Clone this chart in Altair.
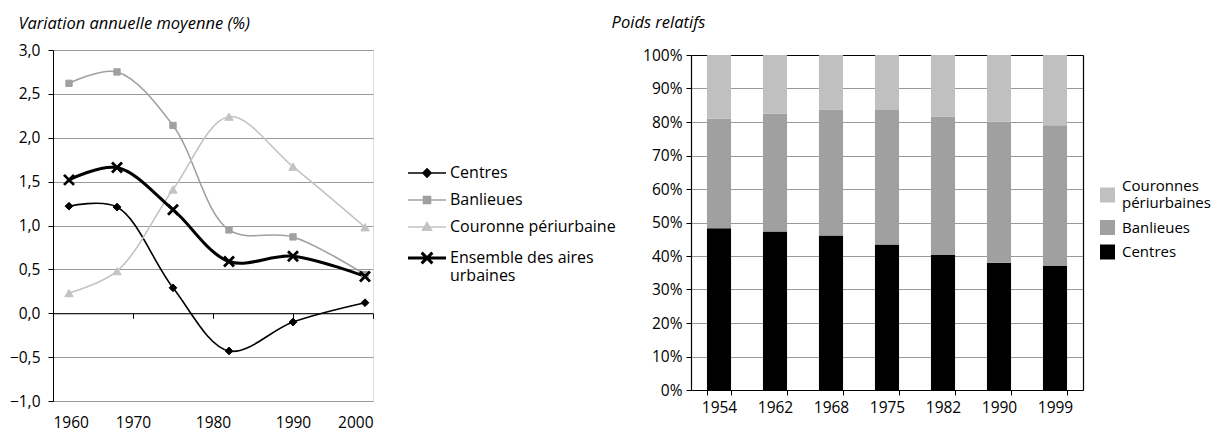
import altair as alt
import pandas as pd

FONT = "Open Sans"
TICK_FS = 15.5
LEG_FS = 16
TITLE_FS = 16.5

# ---------------- left chart data ----------------
series = ["Centres", "Banlieues", "Couronne périurbaine", "Ensemble des aires urbaines"]
years_line = [1962, 1968, 1975, 1982, 1990, 1999]
centres = [1.22, 1.21, 0.29, -0.43, -0.10, 0.12]
banlieues = [2.62, 2.75, 2.14, 0.95, 0.87, 0.44]
couronne = [0.23, 0.48, 1.41, 2.24, 1.67, 0.98]
ensemble = [1.52, 1.66, 1.18, 0.59, 0.65, 0.42]

line_colors = ["#000000", "#a0a0a0", "#c3c3c3", "#000000"]
line_widths = [1.6, 1.6, 1.6, 3.0]
marker_shapes = ["diamond", "square", "triangle-up", "M-1,-1L1,1M-1,1L1,-1"]
marker_sizes = [60, 40, 70, 100]
marker_strokes = [1, 1, 1, 2.8]
legend_shapes = [
    "M-3,0H3M0,-0.65L0.65,0L0,0.65L-0.65,0Z",
    "M-3,0H3M-0.55,-0.55H0.55V0.55H-0.55Z",
    "M-3,0H3M0,-0.7L0.7,0.5H-0.7Z",
    "M-3,0H3M-0.85,-0.85L0.85,0.85M-0.85,0.85L0.85,-0.85",
]

rows = []
for s, vals in zip(series, [centres, banlieues, couronne, ensemble]):
    for yr, v in zip(years_line, vals):
        rows.append({"series": s, "year": yr, "value": v})
df_line = pd.DataFrame(rows)

# ---------------- right chart data ----------------
years_bar = ["1954", "1962", "1968", "1975", "1982", "1990", "1999"]
cats = ["Couronnes périurbaines", "Banlieues", "Centres"]
centres_pct = [48.3, 47.3, 46.1, 43.4, 40.3, 38.0, 37.0]
banlieues_pct = [32.7, 35.2, 37.6, 40.2, 41.3, 42.1, 42.0]
couronnes_pct = [19.0, 17.5, 16.3, 16.4, 18.4, 19.9, 21.0]
bar_colors = ["#c0c0c0", "#a0a0a0", "#000000"]
bar_legend_shapes = ["M-1,0.2H1V2.2H-1Z", "M-1,-1H1V1H-1Z", "M-1,-1H1V1H-1Z"]

brows = []
for cat, rank, vals in [("Centres", 0, centres_pct), ("Banlieues", 1, banlieues_pct),
                        ("Couronnes périurbaines", 2, couronnes_pct)]:
    for yr, v in zip(years_bar, vals):
        brows.append({"cat": cat, "rank": rank, "year": yr, "pct": v})
df_bar = pd.DataFrame(brows)

# ---------------- left chart ----------------
LW, LH = 320, 351

x_enc = alt.X(
    "year:Q",
    scale=alt.Scale(domain=[1960, 2000], nice=False, zero=False),
    axis=alt.Axis(values=[1960, 1970, 1980, 1990, 2000], format="d", title=None, grid=False,
                  offset=-LH / 4, tickSize=5, labelPadding=97, domainColor="black",
                  tickColor="black", domainWidth=1.2, labelFontSize=TICK_FS, labelColor="black",
                  labelFont=FONT),
)
y_enc = alt.Y(
    "value:Q",
    scale=alt.Scale(domain=[-1, 3], nice=False, zero=False),
    axis=alt.Axis(values=[-1, -0.5, 0, 0.5, 1, 1.5, 2, 2.5, 3], title=None,
                  labelExpr="replace(format(datum.value, '.1f'), '.', ',')",
                  grid=True, gridColor="#9a9a9a", tickSize=5, tickColor="black",
                  domainColor="black", labelFontSize=TICK_FS, labelColor="black", labelFont=FONT,
                  labelPadding=8),
)

base = alt.Chart(df_line)

lines = base.mark_line(interpolate="catmull-rom").encode(
    x=x_enc, y=y_enc,
    color=alt.Color("series:N", scale=alt.Scale(domain=series, range=line_colors), legend=None),
    strokeWidth=alt.StrokeWidth("series:N", scale=alt.Scale(type="ordinal", domain=series, range=line_widths), legend=None),
)

points = base.mark_point(filled=True, opacity=1).encode(
    x=x_enc, y=y_enc,
    color=alt.Color("series:N", scale=alt.Scale(domain=series, range=line_colors), legend=None),
    stroke=alt.Stroke("series:N", scale=alt.Scale(domain=series, range=line_colors), legend=None),
    shape=alt.Shape("series:N", scale=alt.Scale(domain=series, range=marker_shapes), legend=None),
    size=alt.Size("series:N", scale=alt.Scale(type="ordinal", domain=series, range=marker_sizes), legend=None),
    strokeWidth=alt.StrokeWidth("series:N", scale=alt.Scale(type="ordinal", domain=series, range=marker_strokes), legend=None),
)

leg = alt.Legend(title=None, orient="none", legendX=366, legendY=115, symbolSize=160,
                 labelFontSize=LEG_FS, labelFont=FONT, labelColor="black", rowPadding=11,
                 labelOffset=15, symbolOpacity=1, labelLimit=400,
                 labelExpr="datum.label == 'Ensemble des aires urbaines' ? ['Ensemble des aires', 'urbaines'] : datum.label")

legend_layer = base.mark_point(filled=True, size=0, opacity=1).encode(
    x=x_enc, y=y_enc,
    color=alt.Color("series:N", scale=alt.Scale(domain=series, range=line_colors), legend=leg),
    stroke=alt.Stroke("series:N", scale=alt.Scale(domain=series, range=line_colors), legend=leg),
    shape=alt.Shape("series:N", scale=alt.Scale(domain=series, range=legend_shapes), legend=leg),
    strokeWidth=alt.StrokeWidth("series:N", scale=alt.Scale(type="ordinal", domain=series, range=line_widths), legend=leg),
)

left = alt.layer(lines, points, legend_layer).resolve_scale(
    color="independent", stroke="independent", shape="independent",
    strokeWidth="independent", size="independent",
).properties(
    width=LW, height=LH,
    title=alt.TitleParams("Variation annuelle moyenne (%)", anchor="start", frame="bounds",
                          fontStyle="italic", fontWeight="normal", fontSize=TITLE_FS, font=FONT,
                          color="black", offset=11, dx=9),
)

# ---------------- right chart ----------------
RW, RH = 392, 340   # plot box; the 0-100 % range sits 5 px below its top

x_bar = alt.X("year:N", sort=years_bar, title=None,
              scale=alt.Scale(paddingInner=0.57, paddingOuter=0.285),
              axis=alt.Axis(tickBand="extent", labelAngle=0, tickSize=5, tickColor="black",
                            domainColor="black", domainWidth=1.2, labelFontSize=TICK_FS,
                            labelColor="black", labelFont=FONT, labelPadding=5, grid=False))
y_bar_scale = alt.Scale(domain=[0, 100], nice=False, range=[RH, 5])

bar_leg = alt.Legend(title=None, orient="none", legendX=1047, legendY=128.5,
                     symbolSize=225, symbolStrokeWidth=0, labelFontSize=15, labelFont=FONT,
                     labelColor="black", rowPadding=8.5, labelOffset=7, labelLimit=400,
                     symbolOpacity=1,
                     labelExpr="datum.label == 'Couronnes périurbaines' ? ['Couronnes', 'périurbaines'] : datum.label")

bars = alt.Chart(df_bar).mark_bar(opacity=1).encode(
    x=x_bar,
    y=alt.Y("pct:Q", stack="zero", title=None, scale=y_bar_scale,
            axis=alt.Axis(values=list(range(0, 101, 10)), labelExpr="datum.value + '%'",
                          grid=True,
                          gridColor={"condition": {"test": "datum.value == 100", "value": "black"},
                                     "value": "#9a9a9a"},
                          tickSize=5, tickColor="black", domainWidth=1.2,
                          domainColor="black", labelFontSize=TICK_FS, labelColor="black",
                          labelFont=FONT, labelPadding=4)),
    color=alt.Color("cat:N", scale=alt.Scale(domain=cats, range=bar_colors), legend=bar_leg),
    order=alt.Order("rank:Q", sort="ascending"),
)

bar_legend_layer = alt.Chart(df_bar).mark_point(filled=True, size=0, opacity=1).encode(
    x=x_bar,
    y=alt.Y("pct:Q", stack=None, title=None, scale=y_bar_scale,
            axis=alt.Axis(orient="right", labels=False, ticks=False, grid=False,
                          domainColor="black", domainWidth=1.2, title=None)),
    color=alt.Color("cat:N", scale=alt.Scale(domain=cats, range=bar_colors), legend=bar_leg),
    shape=alt.Shape("cat:N", scale=alt.Scale(domain=cats, range=bar_legend_shapes), legend=bar_leg),
)

right = alt.layer(bars, bar_legend_layer).resolve_axis(y="independent").properties(
    width=RW, height=RH,
    view=alt.ViewBackground(stroke="transparent"),
    title=alt.TitleParams("Poids relatifs", anchor="start", frame="bounds",
                          fontStyle="italic", fontWeight="normal", fontSize=TITLE_FS, font=FONT,
                          color="black", offset=17, dx=-31),
)

chart = alt.hconcat(left, right, spacing=-6).configure_view(
    stroke="black", strokeWidth=1.2
).configure(
    font=FONT
).properties(
    padding={"left": 0, "top": 6, "right": 0, "bottom": 0}
)

chart.save("out.html", embed_options={"renderer": "svg", "actions": False})
